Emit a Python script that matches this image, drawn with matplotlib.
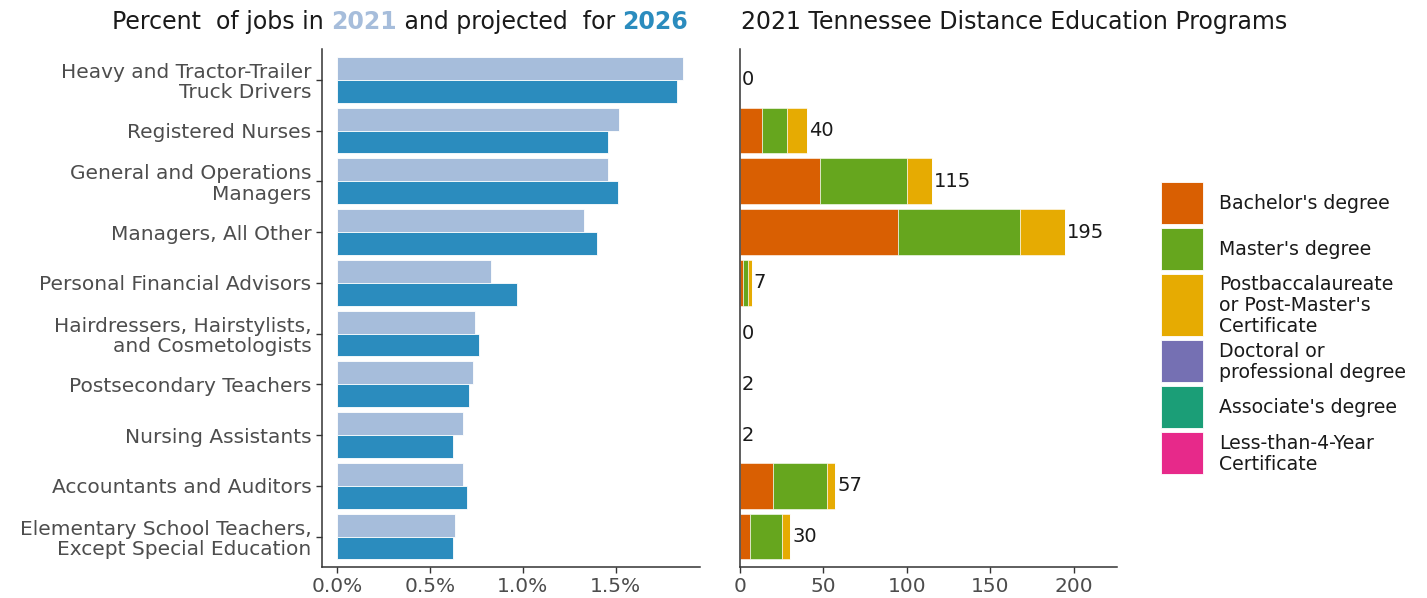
import matplotlib
matplotlib.use("Agg")
import matplotlib.pyplot as plt
from matplotlib.patches import Rectangle
from matplotlib.ticker import FuncFormatter
import numpy as np

plt.rcParams['font.family'] = ['DejaVu Sans']

occupations = [
    "Heavy and Tractor-Trailer\nTruck Drivers",
    "Registered Nurses",
    "General and Operations\nManagers",
    "Managers, All Other",
    "Personal Financial Advisors",
    "Hairdressers, Hairstylists,\nand Cosmetologists",
    "Postsecondary Teachers",
    "Nursing Assistants",
    "Accountants and Auditors",
    "Elementary School Teachers,\nExcept Special Education",
]

# percent of jobs
pct_2021 = [1.86, 1.52, 1.46, 1.33, 0.83, 0.74, 0.73, 0.675, 0.675, 0.633]
pct_2026 = [1.83, 1.46, 1.51, 1.40, 0.97, 0.765, 0.71, 0.623, 0.70, 0.623]

# distance education programs by award level
degree_levels = [
    "Bachelor's degree",
    "Master's degree",
    "Postbaccalaureate\nor Post-Master's\nCertificate",
    "Doctoral or\nprofessional degree",
    "Associate's degree",
    "Less-than-4-Year\nCertificate",
]
bachelor = [0, 13, 48, 95, 2, 0, 0, 0, 20, 6]
master = [0, 15, 52, 73, 3, 0, 0, 0, 32, 19]
postbacc = [0, 12, 15, 27, 2, 0, 0, 0, 5, 5]
doctoral = [0, 0, 0, 0, 0, 0, 0, 0, 0, 0]
associate = [0, 0, 0, 0, 0, 0, 0, 0, 0, 0]
less4yr = [0, 0, 0, 0, 0, 0, 0, 0, 0, 0]
program_totals = [0, 40, 115, 195, 7, 0, 2, 2, 57, 30]

c2021 = "#a6bddb"
c2026 = "#2b8cbe"
degree_colors = ["#d95f02", "#66a61e", "#e6ab02", "#7570b3", "#1b9e77", "#e7298a"]

W, H = 1427, 598
fig = plt.figure(figsize=(W / 100, H / 100), dpi=100)

def fx(px):
    return px / W

def fy(py):
    return 1 - py / H

ax1 = fig.add_axes([fx(322), fy(567), fx(700 - 322), (567 - 49.3) / H])
ax2 = fig.add_axes([fx(740), fy(567), fx(1117 - 740), (567 - 49.3) / H])

axis_col = "#333333"
tick_col = "#4d4d4d"
text_col = "#1a1a1a"

y = np.arange(len(occupations))
h = 0.45
ax1.barh(y - h / 2, pct_2021, height=h, color=c2021, edgecolor="white", linewidth=0.6)
ax1.barh(y + h / 2, pct_2026, height=h, color=c2026, edgecolor="white", linewidth=0.6)
ax1.set_xlim(-0.0824, 1.954)
ax1.set_ylim(len(occupations) - 0.4, -0.6)
ax1.set_yticks(y)
ax1.set_yticklabels(occupations, fontsize=14.5, color=tick_col, linespacing=1.1)
ax1.set_xticks([0, 0.5, 1.0, 1.5])
ax1.xaxis.set_major_formatter(FuncFormatter(lambda v, p: "%.1f%%" % v))

series = [bachelor, master, postbacc, doctoral, associate, less4yr]
left = np.zeros(len(occupations))
for vals, col in zip(series, degree_colors):
    ax2.barh(y, vals, left=left, height=0.9, color=col, edgecolor="white", linewidth=0.4)
    left += np.array(vals)
for i, tot in enumerate(program_totals):
    ax2.annotate(str(tot), (left[i], i), xytext=(1.5, 0), textcoords="offset points",
                 ha="left", va="center", fontsize=14, color=text_col)
ax2.set_xlim(0, 226)
ax2.set_ylim(len(occupations) - 0.4, -0.6)
ax2.set_yticks([])
ax2.set_xticks([0, 50, 100, 150, 200])

for ax in (ax1, ax2):
    for s in ("top", "right"):
        ax.spines[s].set_visible(False)
    for s in ("left", "bottom"):
        ax.spines[s].set_color(axis_col)
        ax.spines[s].set_linewidth(1.1)
    ax.tick_params(axis="both", colors=axis_col, length=4.5, width=1.0,
                   labelcolor=tick_col, pad=3)
    ax.tick_params(axis="x", labelsize=14.5)

# titles
title_size = 17
fig.canvas.draw()
r = fig.canvas.get_renderer()
parts = [("Percent  of jobs in ", text_col, "normal"), ("2021", c2021, "bold"),
         (" and projected  for ", text_col, "normal"), ("2026", c2026, "bold")]
xpos = 112
for txt, col, wt in parts:
    t = fig.text(fx(xpos), fy(22), txt, color=col, fontsize=title_size, fontweight=wt,
                 ha="left", va="center")
    bb = t.get_window_extent(renderer=r)
    xpos += bb.width
fig.text(fx(741), fy(22), "2021 Tennessee Distance Education Programs", color=text_col,
         fontsize=title_size, ha="left", va="center")

# legend
ytop = 181.7
for lab, col in zip(degree_levels, degree_colors):
    n = lab.count("\n") + 1
    kh = max(42, 20.7 * n)
    fig.add_artist(Rectangle((fx(1160.7), fy(ytop + kh)), fx(42), kh / H,
                             facecolor=col, edgecolor="white", linewidth=0.6,
                             transform=fig.transFigure))
    fig.text(fx(1219.3), fy(ytop + kh / 2 + 1), lab, fontsize=13.6, color=text_col,
             ha="left", va="center", linespacing=1.12)
    ytop += kh + 4

fig.savefig("out.png", dpi=100)
